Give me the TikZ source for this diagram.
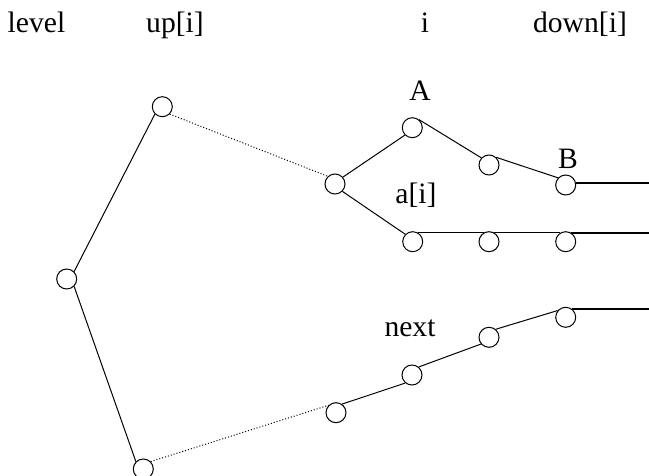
\documentclass[tikz,border=0pt]{standalone}
\usepackage{fontspec}
\setmainfont{Liberation Serif}
\tikzset{
  cell/.style={circle,draw,minimum size=10pt,inner sep=0pt,line width=0.5pt},
  lbl/.style={anchor=base,inner sep=0pt},
  link/.style={line width=0.5pt},
  far/.style={line width=0.5pt,densely dotted},
  tail/.style={line width=0.9pt}
}
\begin{document}
\begin{tikzpicture}[x=0.5pt,y=-0.5pt,font=\fontsize{14.8}{17}\selectfont]
\useasboundingbox (0,0) rectangle (649,476);

\node[lbl] (hlevel) at (36.5,33) {level};
\node[lbl] (hup) at (175,33) {up[i]};
\node[lbl] (hi) at (425,33) {i};
\node[lbl] (hdown) at (580,33) {down[i]};

\node[cell] (lvl) at (66.7,279) {};
\node[cell] (upa) at (162.3,106.7) {};
\node[cell] (upb) at (143.3,469) {};
\node[cell] (mid) at (335,184) {};

\node[cell] (a1) at (412.3,127.7) {};
\node[cell] (a2) at (489,165) {};
\node[cell] (a3) at (565.7,185) {};
\node[cell] (b1) at (412.7,241.7) {};
\node[cell] (b2) at (489,241.7) {};
\node[cell] (b3) at (565.7,241.7) {};
\node[cell] (c1) at (336,412.7) {};
\node[cell] (c2) at (412,375) {};
\node[cell] (c3) at (489,337.3) {};
\node[cell] (c4) at (565.7,317.3) {};

\node[lbl] (la) at (420,100.7) {A};
\node[lbl] (lb) at (568,168.3) {B};
\node[lbl] (lai) at (416,204) {a[i]};
\node[lbl] (lnext) at (410,336.7) {next};

\coordinate (edge) at (649,0);

\draw[link] (lvl.45) -- (upa.225);
\draw[link] (lvl.-45) -- (upb.135);
\draw[far] (upa.-45) -- (mid.133);
\draw[far] (upb.45) -- (c1.135);

\draw[link] (mid.41) -- (a1.225);
\draw[link] (a1.50) -- (a2.137);
\draw[link] (a2.47) -- (a3.137);
\draw[link] (mid.-45) -- (b1.135);
\draw[link] (b1.60) -- (b2.120);
\draw[link] (b2.60) -- (b3.120);
\draw[link] (c1.55) -- (c2.230);
\draw[link] (c2.50) -- (c3.220);
\draw[link] (c3.50) -- (c4.140);

\draw[tail] (a3.10) -- (a3.10 -| edge);
\draw[tail] (b3.60) -- (b3.60 -| edge);
\draw[tail] (c4.55) -- (c4.55 -| edge);

\end{tikzpicture}
\end{document}
